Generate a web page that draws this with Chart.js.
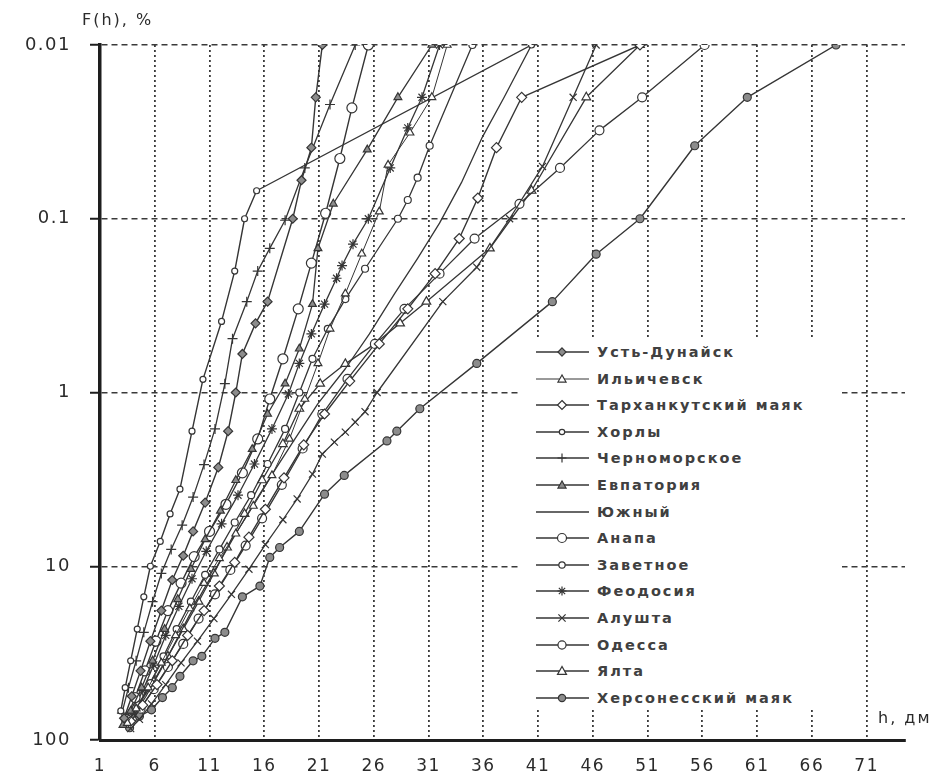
<!DOCTYPE html>
<html><head><meta charset="utf-8">
<script src="https://cdn.jsdelivr.net/npm/chart.js@4.4.1/dist/chart.umd.min.js"></script>
<style>
html,body{margin:0;padding:0;background:#fff;}
#wrap{position:relative;width:950px;height:778px;overflow:hidden;background:#fff;}
canvas{position:absolute;left:0;top:0;}
.t{position:absolute;font-family:"DejaVu Sans",sans-serif;color:#2b2b2b;font-size:16px;letter-spacing:2px;white-space:nowrap;}
#legend{position:absolute;left:518px;top:338px;width:324px;height:372px;background:#fff;}
.li{position:absolute;left:17px;height:20px;display:flex;align-items:center;font-family:"DejaVu Sans",sans-serif;font-weight:700;font-size:14.5px;letter-spacing:2px;color:#404040;white-space:nowrap;}
.li svg{margin-right:7px;}
</style></head><body>
<div id="wrap">
<canvas id="c" width="950" height="778"></canvas>
<div class="t" style="left:82px;top:10px;">F(h), %</div>
<div class="t" style="left:878px;top:708px;">h, дм</div>
<div id="legend"></div>
</div>
<script>
// ---- data (h in dm, F in %) ----
const xTicks = [1,6,11,16,21,26,31,36,41,46,51,56,61,66,71];
const yTicks = [0.01,0.1,1,10,100];
const yTickLabels = ["0.01","0.1","1","10","100"];
const seriesNames = ["Усть-Дунайск","Ильичевск","Тарханкутский маяк","Хорлы","Черноморское","Евпатория","Южный","Анапа","Заветное","Феодосия","Алушта","Одесса","Ялта","Херсонесский маяк"];

const ustDunaisk = [[21.3,0.01],[20.7,0.02],[20.3,0.039],[19.4,0.06],[18.6,0.1],[16.3,0.3],[15.2,0.4],[14.0,0.6],[13.4,1.0],[12.7,1.67],[11.8,2.7],[10.6,4.3],[9.5,6.3],[8.6,8.7],[7.6,12],[6.6,18],[5.6,27],[4.7,40],[3.9,56],[3.2,75]];
const ilichevsk = [[32.7,0.01],[31.3,0.02],[29.3,0.032],[27.3,0.049],[26.5,0.091],[24.9,0.159],[23.4,0.27],[22.0,0.43],[20.9,0.68],[19.7,1.09],[18.3,1.85],[16.7,3.0],[15.0,4.5],[13.4,6.5],[11.9,9.0],[10.5,12.5],[9.2,17.5],[7.9,25],[6.6,36],[5.4,50],[4.3,66],[3.5,80]];
const tarkhankut = [[50.3,0.01],[39.5,0.02],[37.2,0.039],[35.5,0.076],[33.8,0.13],[31.6,0.207],[29.1,0.33],[26.5,0.525],[23.8,0.86],[21.5,1.33],[19.6,2.0],[17.8,3.1],[16.1,4.7],[14.6,6.8],[13.3,9.5],[11.9,13],[10.5,18],[9.0,25],[7.6,35],[6.2,48],[4.9,63],[3.8,78]];
const khorly = [[40.4,0.01],[15.3,0.069],[14.2,0.1],[13.3,0.2],[12.1,0.39],[10.4,0.84],[9.4,1.67],[8.3,3.6],[7.4,5.0],[6.5,7.2],[5.6,10],[5.0,15],[4.4,23],[3.8,35],[3.3,50],[2.9,68]];
const chernomorskoe = [[24.3,0.01],[22.0,0.022],[19.7,0.051],[17.9,0.102],[16.5,0.148],[15.4,0.2],[14.4,0.3],[13.1,0.49],[12.4,0.89],[11.5,1.62],[10.5,2.6],[9.5,4.0],[8.5,5.8],[7.5,8.0],[6.6,11],[5.8,16],[5.0,24],[4.3,35],[3.6,50],[3.0,70]];
const evpatoria = [[31.3,0.01],[28.2,0.02],[25.4,0.04],[22.3,0.082],[20.9,0.148],[20.4,0.31],[19.2,0.56],[17.9,0.89],[16.3,1.33],[14.9,2.12],[13.4,3.2],[12.0,4.8],[10.6,7.0],[9.3,10.4],[8.1,15.5],[6.9,23],[5.8,35],[4.8,50],[3.8,68],[3.1,82]];
const yuzhny = [[40.4,0.01],[37.9,0.02],[35.9,0.034],[34.0,0.062],[32.0,0.106],[30.0,0.169],[27.9,0.27],[25.6,0.46],[23.4,0.73],[20.9,1.16],[18.8,1.85],[16.8,2.9],[15.0,4.4],[13.4,6.5],[11.9,9.5],[10.5,13.5],[9.1,19.5],[7.8,28],[6.5,40],[5.2,56],[4.1,72]];
const anapa = [[25.5,0.01],[24.0,0.023],[22.9,0.045],[21.6,0.093],[20.3,0.18],[19.1,0.33],[17.7,0.64],[16.5,1.09],[15.4,1.85],[14.0,2.9],[12.5,4.4],[11.0,6.3],[9.6,8.8],[8.4,12.5],[7.2,18],[6.1,27],[5.1,40],[4.2,57],[3.4,76]];
const zavetnoe = [[35.0,0.01],[31.1,0.038],[30.0,0.058],[29.1,0.078],[28.2,0.1],[25.2,0.194],[23.4,0.29],[21.8,0.43],[20.4,0.64],[19.2,1.0],[17.9,1.62],[16.3,2.58],[14.8,3.9],[13.3,5.6],[11.9,8.0],[10.6,11.2],[9.3,16],[8.0,23],[6.8,33],[5.6,47],[4.5,63],[3.6,79]];
const feodosia = [[32.0,0.01],[30.4,0.02],[29.1,0.03],[27.5,0.051],[25.5,0.1],[24.1,0.14],[23.1,0.186],[22.6,0.22],[21.5,0.31],[20.3,0.46],[19.2,0.68],[18.2,1.02],[16.7,1.62],[15.1,2.58],[13.6,3.9],[12.1,5.7],[10.7,8.2],[9.4,11.8],[8.2,17],[7.0,25],[5.9,37],[4.9,52],[3.9,70]];
const alushta = [[46.3,0.01],[44.2,0.02],[41.4,0.05],[38.4,0.1],[35.4,0.19],[32.3,0.3],[26.3,1.0],[25.2,1.29],[24.3,1.48],[23.4,1.69],[22.4,1.93],[21.3,2.26],[20.4,2.95],[19.0,4.1],[17.7,5.4],[16.1,7.5],[14.6,10.4],[13.0,14.5],[11.4,20],[9.9,27],[8.4,36],[7.0,48],[5.7,62],[4.6,76],[3.8,86]];
const odessa = [[56.2,0.01],[50.5,0.02],[46.6,0.031],[43.0,0.051],[39.3,0.082],[35.2,0.13],[32.0,0.207],[28.8,0.33],[26.1,0.525],[23.6,0.835],[21.3,1.33],[19.5,2.1],[17.6,3.4],[15.8,5.3],[14.3,7.6],[12.9,10.5],[11.5,14.5],[10.0,20],[8.6,28],[7.2,38],[5.9,51],[4.7,66],[3.7,80]];
const yalta = [[50.3,0.01],[45.4,0.02],[40.4,0.069],[36.6,0.148],[30.8,0.30],[28.4,0.40],[26.1,0.525],[23.4,0.684],[21.1,0.89],[19.2,1.24],[17.7,1.98],[15.8,3.2],[14.2,5.0],[12.6,7.8],[11.4,11],[10.0,16],[8.6,23],[7.2,33],[5.9,46],[4.6,62],[3.6,78]];
const khersones = [[68.2,0.01],[60.1,0.02],[55.3,0.038],[50.3,0.1],[46.3,0.16],[42.3,0.3],[35.4,0.68],[30.2,1.24],[28.1,1.67],[27.2,1.9],[23.3,3.0],[21.5,3.85],[19.2,6.3],[17.4,7.8],[16.5,8.9],[15.6,13],[14.0,15],[12.4,24],[11.5,26],[10.3,33],[9.5,35],[8.3,43],[7.6,50],[6.7,57],[5.7,67],[4.6,73],[3.7,85]];

const seriesData = [ustDunaisk, ilichevsk, tarkhankut, khorly, chernomorskoe, evpatoria, yuzhny, anapa, zavetnoe, feodosia, alushta, odessa, yalta, khersones];

// ---- styles ----
const INK = '#353535', GRAY = '#8c8c8c', WHITE = '#ffffff';
const styles = [
  {ps:'rectRot', r:4.5, fill:GRAY, lw:1.4},
  {ps:'triangle', r:4.5, fill:WHITE, lw:1.0},
  {ps:'rectRot', r:5, fill:WHITE, lw:1.4},
  {ps:'circle', r:3, fill:WHITE, lw:1.4},
  {ps:'cross', r:5, fill:WHITE, lw:1.3},
  {ps:'triangle', r:4.5, fill:GRAY, lw:1.3},
  {ps:'circle', r:0, fill:WHITE, lw:1.3},
  {ps:'circle', r:5, fill:WHITE, lw:1.4},
  {ps:'circle', r:3.5, fill:WHITE, lw:1.3},
  {ps:'star', r:5, fill:WHITE, lw:1.3},
  {ps:'crossRot', r:5, fill:WHITE, lw:1.3},
  {ps:'circle', r:4.5, fill:WHITE, lw:1.3},
  {ps:'triangle', r:5, fill:WHITE, lw:1.3},
  {ps:'circle', r:4, fill:GRAY, lw:1.4}
];

const datasets = seriesNames.map((name, i) => ({
  label: name,
  data: seriesData[i].map(p => ({x: p[0], y: p[1]})),
  borderColor: INK,
  borderWidth: styles[i].lw,
  pointStyle: styles[i].ps,
  pointRadius: styles[i].r,
  pointBackgroundColor: styles[i].fill,
  pointBorderColor: INK,
  pointBorderWidth: 1.2,
  tension: 0,
  fill: false
}));

const spacingPlugin = {
  id: 'letterSpacing',
  beforeDraw(chart) { try { chart.ctx.letterSpacing = '1.5px'; } catch (e) {} }
};

new Chart(document.getElementById('c'), {
  type: 'line',
  data: { datasets },
  plugins: [spacingPlugin],
  options: {
    responsive: false,
    devicePixelRatio: 1,
    animation: false,
    layout: { padding: { top: 45, right: 45, left: 0, bottom: 0 } },
    plugins: { legend: { display: false }, tooltip: { enabled: false } },
    elements: { line: { borderJoinStyle: 'round' } },
    scales: {
      x: {
        type: 'linear', min: 1, max: 74.5,
        afterBuildTicks: s => { s.ticks = xTicks.map(v => ({ value: v })); },
        afterFit: s => { s.height = 38; },
        grid: { color: '#3a3a3a', lineWidth: 1.8, drawTicks: false },
        border: { display: true, color: '#1e1e1e', width: 3, dash: [2, 3] },
        ticks: { autoSkip: false, maxRotation: 0, padding: 16, color: '#2b2b2b',
                 font: { family: 'DejaVu Sans', size: 17 },
                 callback: v => String(v) }
      },
      y: {
        type: 'logarithmic', reverse: true, min: 0.01, max: 100,
        afterBuildTicks: s => { s.ticks = yTicks.map(v => ({ value: v })); },
        afterFit: s => { s.width = 100; },
        grid: { color: '#3a3a3a', lineWidth: 1.5, tickLength: 10, tickColor: '#1e1e1e', tickWidth: 2, tickBorderDash: [] },
        border: { display: true, color: '#1e1e1e', width: 3.5, dash: [6, 4] },
        ticks: { autoSkip: false, padding: 19, color: '#2b2b2b',
                 font: { family: 'DejaVu Sans', size: 18 },
                 callback: v => { const k = yTicks.findIndex(t => Math.abs(t - v) < 1e-9); return k >= 0 ? yTickLabels[k] : ''; } }
      }
    }
  }
});

// ---- HTML legend ----
function markerSvg(st) {
  const cx = 27, cy = 7, r = Math.max(st.r, 0) * 0.9;
  let m = '';
  const s = `stroke="${INK}" stroke-width="1.2"`;
  if (st.r > 0) {
    if (st.ps === 'circle') m = `<circle cx="${cx}" cy="${cy}" r="${r}" fill="${st.fill}" ${s}/>`;
    else if (st.ps === 'triangle') m = `<polygon points="${cx},${cy - r} ${cx - r},${cy + r * 0.75} ${cx + r},${cy + r * 0.75}" fill="${st.fill}" ${s}/>`;
    else if (st.ps === 'rectRot') m = `<polygon points="${cx},${cy - r} ${cx + r},${cy} ${cx},${cy + r} ${cx - r},${cy}" fill="${st.fill}" ${s}/>`;
    else if (st.ps === 'cross') m = `<path d="M${cx} ${cy - r}V${cy + r}M${cx - r} ${cy}H${cx + r}" ${s} fill="none"/>`;
    else if (st.ps === 'crossRot') m = `<path d="M${cx - r * 0.8} ${cy - r * 0.8}L${cx + r * 0.8} ${cy + r * 0.8}M${cx - r * 0.8} ${cy + r * 0.8}L${cx + r * 0.8} ${cy - r * 0.8}" ${s} fill="none"/>`;
    else if (st.ps === 'star') m = `<path d="M${cx} ${cy - r}V${cy + r}M${cx - r} ${cy}H${cx + r}M${cx - r * 0.7} ${cy - r * 0.7}L${cx + r * 0.7} ${cy + r * 0.7}M${cx - r * 0.7} ${cy + r * 0.7}L${cx + r * 0.7} ${cy - r * 0.7}" ${s} fill="none"/>`;
  }
  return `<svg width="55" height="14" viewBox="0 0 55 14"><line x1="1" y1="${cy}" x2="54" y2="${cy}" stroke="${INK}" stroke-width="${st.lw}"/>${m}</svg>`;
}
const leg = document.getElementById('legend');
seriesNames.forEach((name, i) => {
  const d = document.createElement('div');
  d.className = 'li';
  d.style.top = (4 + i * 26.6) + 'px';
  d.innerHTML = markerSvg(styles[i]) + '<span></span>';
  d.querySelector('span').textContent = name;
  leg.appendChild(d);
});
</script>
</body></html>
